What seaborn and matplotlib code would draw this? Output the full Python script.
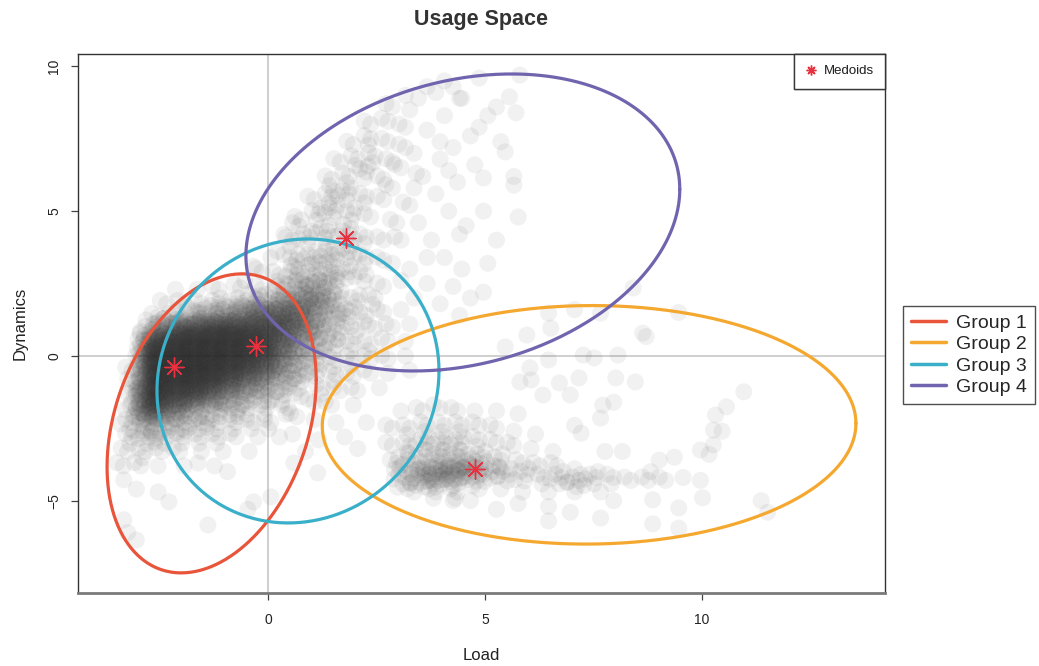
import numpy as np
import pandas as pd
import matplotlib
matplotlib.use("Agg")
import matplotlib.pyplot as plt
from matplotlib.lines import Line2D
import seaborn as sns

# ---------------------------------------------------------------
# Observation clumps: load, dynamics, number of observations in the clump
# ---------------------------------------------------------------
core_load = [
    -2.2, -1.7, -1.2, -0.7, -0.2, 0.3, 0.7, 1.1, 1.5,
    -2.4, -2.0, -1.6, -1.2, -0.8, -0.4, 0.0, 0.4, 0.8, 1.2, 1.6, 2.0, 2.4,
    -2.6, -2.2, -1.8, -1.4, -1.0, -0.6, -0.2, 0.2, 0.6, 1.0, 1.4, 1.8, 2.2, 2.6,
    -2.75, -2.4, -2.0, -1.6, -1.2, -0.8, -0.4, 0.0, 0.4, 0.8, 1.2, 1.6, 2.0, 2.4, 2.8, 3.2,
    -2.8, -2.5, -2.1, -1.7, -1.3, -0.9, -0.5, -0.1, 0.3, 0.7, 1.1, 1.5, 1.9, 2.3, 2.7, 3.1,
    -2.8, -2.5, -2.1, -1.7, -1.3, -0.9, -0.5, -0.1, 0.3, 0.7, 1.1, 1.5, 1.9, 2.3, 2.7, 3.1,
    -3.2, -2.8, -2.5, -2.1, -1.7, -1.3, -0.9, -0.5, -0.1, 0.3, 0.7, 1.1, 1.5, 1.9, 2.3, 2.7, 3.2,
    -3.15, -2.8, -2.5, -2.1, -1.7, -1.3, -0.9, -0.5, -0.1, 0.3, 0.7, 1.2, 1.6, 2.0, 2.5,
    -3.15, -2.8, -2.5, -2.1, -1.7, -1.3, -0.9, -0.5, -0.1, 0.3, 0.7,
    -3.1, -2.8, -2.5, -2.1, -1.7, -1.3, -0.9, -0.5, -0.1, 0.4, 1.0, 1.4, 1.9,
    -3.2, -2.8, -2.4, -2.0, -1.6, -1.2, -0.8, -0.4, 0.0, 0.6, 1.0, 1.5, 2.2,
    -3.2, -2.8, -2.4, -2.0, -1.6, -1.2, -0.8, -0.3, 0.2, 0.5, 1.1, 1.7,
    -3.3, -2.9, -2.5, -2.1, -1.6, -1.1, -0.5, 0.8, 2.0,
    -3.4, -3.0, -2.6, -2.0, -1.3, -1.68, 0.53,
    -3.39, -3.1, -2.6, -2.35, -3.39, -3.3, -3.1, -1.45, -0.4, 0.0, -0.53, 1.08, -1.0,
]
core_dyn = [
    2.3, 2.3, 2.3, 2.35, 2.3, 2.3, 2.3, 2.25, 2.4,
    1.8, 1.8, 1.8, 1.8, 1.8, 1.8, 1.8, 1.8, 1.85, 1.85, 1.8, 1.9, 2.0,
    1.35, 1.35, 1.35, 1.35, 1.35, 1.4, 1.4, 1.4, 1.35, 1.35, 1.3, 1.35, 1.4, 1.5,
    0.9, 0.9, 0.9, 0.9, 0.9, 0.9, 0.9, 0.9, 0.9, 0.9, 0.85, 0.8, 0.9, 0.95, 1.0, 1.1,
    0.45, 0.45, 0.45, 0.45, 0.45, 0.45, 0.45, 0.45, 0.45, 0.45, 0.4, 0.35, 0.4, 0.4, 0.5, 0.5,
    0.0, 0.0, 0.0, 0.0, 0.0, 0.0, 0.0, 0.0, 0.0, 0.0, -0.05, -0.15, -0.1, -0.1, -0.1, 0.0,
    -0.5, -0.45, -0.45, -0.45, -0.45, -0.45, -0.45, -0.45, -0.45, -0.45, -0.45, -0.5, -0.65, -0.7, -0.6, -0.6, -0.5,
    -0.9, -0.9, -0.9, -0.9, -0.9, -0.9, -0.9, -0.9, -0.9, -0.9, -0.9, -1.1, -1.2, -1.2, -1.1,
    -1.4, -1.35, -1.35, -1.35, -1.35, -1.35, -1.35, -1.35, -1.35, -1.35, -1.4,
    -1.8, -1.8, -1.8, -1.8, -1.8, -1.8, -1.8, -1.8, -1.8, -1.8, -1.6, -1.7, -1.7,
    -2.3, -2.3, -2.3, -2.3, -2.3, -2.3, -2.3, -2.3, -2.3, -2.1, -2.2, -2.3, -2.3,
    -2.8, -2.8, -2.8, -2.8, -2.8, -2.8, -2.8, -2.8, -2.8, -2.7, -2.9, -2.8,
    -3.3, -3.3, -3.3, -3.3, -3.3, -3.3, -3.3, -3.3, -3.2,
    -3.8, -3.8, -3.8, -3.8, -3.8, -3.7, -3.7,
    -4.28, -4.6, -4.7, -5.04, -5.66, -6.1, -6.36, -5.84, -5.04, -4.87, -5.3, -4.04, -4.0,
]
core_n = [
    1, 1, 2, 2, 3, 5, 10, 12, 8,
    2, 2, 3, 4, 5, 7, 10, 16, 18, 14, 7, 4, 3,
    3, 6, 9, 12, 16, 20, 24, 24, 22, 16, 9, 5, 3, 2,
    8, 22, 30, 34, 36, 36, 34, 30, 26, 16, 8, 5, 3, 2, 2, 1,
    16, 34, 40, 40, 40, 40, 38, 34, 22, 12, 7, 5, 3, 3, 2, 1,
    22, 38, 42, 42, 42, 40, 38, 30, 18, 10, 5, 3, 3, 2, 2, 1,
    2, 22, 38, 42, 42, 40, 36, 30, 22, 14, 8, 5, 3, 2, 2, 1, 1,
    3, 22, 38, 40, 38, 34, 26, 18, 13, 8, 5, 3, 2, 2, 1,
    4, 24, 36, 32, 28, 20, 14, 10, 7, 4, 2,
    6, 22, 24, 18, 13, 9, 6, 5, 4, 3, 2, 2, 1,
    5, 12, 10, 8, 6, 5, 4, 3, 3, 2, 1, 1, 1,
    4, 7, 5, 4, 3, 3, 2, 1, 1, 1, 1, 1,
    2, 3, 2, 2, 1, 1, 1, 1, 1,
    2, 2, 1, 1, 1, 1, 1,
    1, 1, 1, 1, 1, 1, 1, 1, 1, 1, 1, 1, 1,
]

upper_load = [
    0.6, 1.0, 1.4, 1.8, 2.2, 0.6, 1.0, 1.4, 1.8, 2.2, 2.6,
    0.5, 0.9, 1.3, 1.8, 2.2, 2.6, 0.7, 1.1, 1.5, 1.9, 2.3,
    1.0, 1.4, 1.8, 2.2, 2.6, 1.4, 1.8, 2.2, 2.6, 1.6, 2.0, 2.4, 2.8,
    1.9, 2.3, 2.7, 3.1, 2.3, 2.7, 3.1, 2.8, 3.2, 3.4, 3.8, 4.2,
    -0.6, -0.2, 0.2, 0.0, 0.3, 0.3, 0.5, -0.4,
    2.8, 3.0, 3.2, 3.3, 3.5, 3.4, 3.6, 3.8, 3.9, 3.7, 4.0, 4.1, 4.2, 4.3,
    4.0, 4.4, 4.5, 4.6, 4.7, 4.4, 4.8, 4.8, 4.9, 4.9, 5.0, 5.2, 5.2, 5.3,
    5.4, 5.5, 5.6, 5.6, 5.65, 5.7, 5.74, 4.35, 4.35, 4.9, 4.35, 3.0, 3.2,
    3.6, 3.9, 3.3, 2.8, 2.6, 3.0, 3.0, 3.3, 2.9, 3.1, 3.6, 4.0, 3.9, 4.1,
    3.6, 4.2, 4.6, 5.0,
]
upper_dyn = [
    2.8, 2.8, 2.9, 2.9, 2.8, 3.3, 3.4, 3.5, 3.6, 3.4, 3.3,
    4.0, 4.1, 4.3, 4.2, 4.1, 4.0, 4.7, 4.9, 5.0, 4.9, 4.8,
    5.4, 5.5, 5.6, 5.5, 5.4, 6.1, 6.2, 6.35, 6.1, 6.7, 6.8, 6.9, 6.7,
    7.3, 7.5, 7.4, 7.2, 8.0, 8.1, 7.9, 8.6, 8.5, 8.9, 9.1, 9.3,
    2.6, 2.9, 2.8, 3.4, 3.5, 4.2, 4.6, 3.1,
    5.8, 6.5, 5.2, 7.0, 6.2, 4.6, 7.8, 5.6, 6.8, 4.0, 8.3, 5.0, 7.2, 6.0,
    3.4, 8.9, 4.5, 7.6, 6.6, 3.0, 9.6, 7.9, 6.15, 5.0, 8.3, 8.6, 4.0, 7.4,
    7.05, 8.95, 6.2, 5.9, 8.4, 4.8, 9.7, 4.2, 8.9, 2.2, 1.4, 4.0, 3.0,
    2.5, 1.8, 2.0, 3.2, 2.4, 1.6, 2.6, 5.8, 4.6, 9.0, 9.3, 9.5, 7.4, 6.4,
    3.4, 2.4, 2.0, 3.2,
]
upper_n = [
    7, 8, 8, 6, 3, 4, 6, 7, 6, 3, 2,
    3, 5, 6, 7, 3, 2, 3, 4, 5, 4, 2,
    2, 4, 5, 3, 2, 3, 3, 4, 2, 2, 3, 3, 2,
    2, 3, 2, 2, 2, 2, 2, 2, 1, 1, 1, 1,
    1, 2, 3, 1, 2, 1, 1, 1,
    2, 2, 2, 1, 2, 1, 1, 1, 1, 1, 1, 1, 1, 1,
    1, 1, 1, 1, 1, 1, 1, 1, 1, 1, 1, 1, 1, 1,
    1, 1, 1, 1, 1, 1, 1, 1, 1, 1, 1, 2, 1,
    1, 1, 1, 1, 2, 1, 1, 1, 2, 1, 1, 1, 1, 1,
    1, 1, 1, 1,
]

lower_load = [
    3.1, 3.5, 3.9, 4.3, 4.7, 5.1, 5.5, 5.9, 6.3, 6.7, 7.1, 7.5, 7.9, 8.3, 8.7, 9.1, 9.5, 9.9,
    2.9, 3.3, 3.7, 4.1, 4.5, 4.9, 5.3, 5.8, 6.2, 6.6, 7.0,
    2.8, 3.2, 3.6, 4.0, 4.4, 4.8, 5.2, 5.6, 6.0, 6.5,
    2.8, 3.2, 3.6, 4.0, 4.4, 4.8, 5.2, 5.6, 6.1,
    3.0, 3.5, 3.9, 4.3, 4.7, 5.2, 5.7,
    3.3, 3.8, 4.3, 4.8, 5.3, 5.8, 6.4, 7.0, 7.6,
    10.9, 10.5, 10.25, 10.4, 10.2, 10.2, 9.9, 10.1, 11.3, 11.45,
    8.8, 9.4, 9.4, 9.95, 7.6, 7.9, 8.8, 6.4, 6.9, 6.4, 5.7, 5.2, 4.2, 4.6,
    7.95, 8.4, 7.65, 7.9, 7.6, 7.0, 7.15, 8.1, 7.7, 8.95, 9.3, 8.75,
    8.65, 7.2, 7.45, 8.0, 7.1, 6.9, 6.65, 6.27, 6.4, 5.97, 5.4, 5.74, 6.0,
    6.4, 7.0, 7.6, 9.4, 5.9, 6.45, 8.57, 8.35,
]
lower_dyn = [
    -4.2, -4.2, -4.15, -4.1, -4.0, -4.0, -4.1, -4.1, -4.2, -4.2, -4.3, -4.2, -4.2, -4.3, -4.3, -4.3, -4.2, -4.3,
    -3.7, -3.7, -3.6, -3.6, -3.6, -3.5, -3.6, -3.7, -3.8, -3.8, -3.9,
    -3.1, -3.1, -3.0, -3.0, -3.0, -2.9, -3.0, -3.1, -3.2, -3.3,
    -2.5, -2.5, -2.4, -2.4, -2.4, -2.4, -2.5, -2.6, -2.7,
    -1.9, -1.9, -1.8, -1.9, -1.9, -1.9, -2.0,
    -4.7, -4.7, -4.7, -4.6, -4.6, -4.7, -4.7, -4.7, -4.7,
    -1.24, -1.76, -2.04, -2.6, -2.56, -3.07, -3.25, -3.4, -5.0, -5.4,
    -5.8, -5.95, -5.25, -4.9, -5.6, -5.0, -4.97, -5.7, -5.4, -5.2, -5.1, -5.3, -5.0, -5.0,
    -0.76, -0.9, -1.7, -1.6, -2.15, -2.4, -2.67, -3.3, -3.3, -3.6, -3.5, -4.0,
    0.67, 0.03, -0.07, 0.03, -0.76, -1.35, -0.93, -1.35, -0.14, -0.41, 0.31, -0.9, -0.83,
    1.48, 1.6, 1.48, 1.5, 0.72, 0.96, 0.79, 2.35,
]
lower_n = [
    8, 14, 18, 18, 14, 9, 6, 4, 3, 6, 6, 5, 3, 2, 2, 2, 1, 1,
    4, 7, 9, 9, 8, 5, 4, 2, 2, 2, 1,
    2, 3, 5, 5, 5, 3, 2, 2, 1, 1,
    2, 3, 3, 3, 3, 2, 2, 1, 1,
    1, 2, 2, 2, 1, 1, 1,
    2, 3, 3, 2, 1, 1, 1, 1, 1,
    1, 1, 1, 1, 1, 1, 1, 1, 1, 1,
    1, 1, 1, 1, 1, 1, 1, 1, 1, 1, 1, 1, 1, 1,
    1, 1, 1, 1, 1, 1, 1, 1, 1, 1, 1, 1,
    1, 1, 1, 1, 1, 1, 1, 1, 1, 1, 1, 1, 1,
    1, 1, 1, 1, 1, 1, 1, 1,
]

# Medoid of each group
medoid_load = [-2.17, -0.28, 1.79, 4.77]
medoid_dyn = [-0.37, 0.35, 4.09, -3.91]

# Group ellipses: centre, half-width, half-height, vertical shift at the rightmost point
groups = ["Group 1", "Group 2", "Group 3", "Group 4"]
group_colors = ["#E8553A", "#F5A830", "#3AAFC9", "#7064AE"]
ell_cx = [-1.30, 7.40, 0.69, 4.49]
ell_cy = [-2.33, -2.38, -0.865, 4.61]
ell_hw = [2.41, 6.15, 3.25, 5.00]
ell_hh = [5.165, 4.12, 4.905, 5.13]
ell_shift = [1.50, 0.05, 0.34, 1.15]

# ---------------------------------------------------------------
sns.set_theme(style="white")
plt.rcParams["font.family"] = ["Liberation Sans", "DejaVu Sans"]

fig = plt.figure(figsize=(10.39, 6.66), dpi=100)
ax = fig.add_axes([78 / 1039, 73 / 666, 807 / 1039, 539 / 666])
ax.set_xlim(-4.38, 14.22)
ax.set_ylim(-8.19, 10.43)


def spread_clumps(load, dyn, counts):
    """Fan the observations of each clump out on a small sunflower pattern
    in screen space, so stacked points render as a soft cloud."""
    centres = ax.transData.transform(np.column_stack([load, dyn]))
    pts = []
    for (cx, cy), k in zip(centres, counts):
        j = np.arange(k)
        radius = min(4.0 * np.sqrt(k), 12.0) * np.sqrt((j + 0.5) / k)
        angle = j * 2.39996
        pts.append(np.column_stack([cx + radius * np.cos(angle),
                                    cy + radius * np.sin(angle)]))
    back = ax.transData.inverted().transform(np.vstack(pts))
    return pd.DataFrame({"Load": back[:, 0], "Dynamics": back[:, 1]})


cloud = spread_clumps(core_load + upper_load + lower_load,
                      core_dyn + upper_dyn + lower_dyn,
                      core_n + upper_n + lower_n)

ax.axhline(0, color="#cccccc", lw=1.3, zorder=0)
ax.axvline(0, color="#cccccc", lw=1.3, zorder=0)

sns.scatterplot(data=cloud, x="Load", y="Dynamics", ax=ax, s=150,
                color="#2f302f", alpha=0.065, edgecolor="none", linewidth=0,
                legend=False, zorder=1)

t = np.linspace(0, 2 * np.pi, 400)
for i, g in enumerate(groups):
    ex = ell_cx[i] + ell_hw[i] * np.cos(t)
    ey = (ell_cy[i] + ell_shift[i] * np.cos(t)
          + np.sqrt(ell_hh[i] ** 2 - ell_shift[i] ** 2) * np.sin(t))
    ax.plot(ex, ey, color=group_colors[i], lw=2.3, zorder=3,
            solid_capstyle="round")

med = pd.DataFrame({"Load": medoid_load, "Dynamics": medoid_dyn})
sns.scatterplot(data=med, x="Load", y="Dynamics", ax=ax, marker=(8, 2, 0),
                s=190, color="#E8313F", linewidth=1.0, legend=False, zorder=4)

ax.set_xlim(-4.38, 14.22)
ax.set_ylim(-8.19, 10.43)
ax.set_xticks([0, 5, 10])
ax.set_yticks([-5, 0, 5, 10])
ax.tick_params(axis="both", length=5, width=0.9, color="#444444",
               labelsize=10, labelcolor="#222222", direction="out",
               left=True, bottom=True)
ax.tick_params(axis="x", pad=9.5)
ax.tick_params(axis="y", pad=7)
for lab in ax.get_yticklabels():
    lab.set_rotation(90)
    lab.set_va("center")

for side in ["top", "right", "left"]:
    ax.spines[side].set_color("#333333")
    ax.spines[side].set_linewidth(1.0)
ax.spines["bottom"].set_color("#7a7a7a")
ax.spines["bottom"].set_linewidth(2.0)

ax.set_xlabel("Load", fontsize=12, color="#222222", labelpad=15)
ax.set_ylabel("Dynamics", fontsize=12, color="#222222", labelpad=14)
fig.text(481 / 1039, 1 - 20 / 666, "Usage Space", ha="center", va="center",
         fontsize=15.5, fontweight="bold", color="#333333")

med_handle = [Line2D([], [], linestyle="none", marker=(8, 2, 0), markersize=7,
                     markeredgewidth=1.0, color="#E8313F")]
leg1 = ax.legend(med_handle, ["Medoids"], loc="upper right", borderaxespad=0,
                 fontsize=9.5, frameon=True, fancybox=False, handlelength=0.9,
                 handletextpad=0.5, borderpad=0.85)
leg1.get_frame().set_edgecolor("#222222")
leg1.get_frame().set_linewidth(1.0)
ax.add_artist(leg1)

grp_handles = [Line2D([], [], color=c, lw=2.5) for c in group_colors]
leg2 = fig.legend(grp_handles, groups, loc="center left",
                  bbox_to_anchor=(903 / 1039, 1 - 355 / 666),
                  borderaxespad=0, fontsize=14, frameon=True, fancybox=False,
                  handlelength=1.8, handletextpad=0.55, labelspacing=0.2,
                  borderpad=0.4)
leg2.get_frame().set_edgecolor("#222222")
leg2.get_frame().set_linewidth(1.0)

fig.savefig("out.png", dpi=100)
